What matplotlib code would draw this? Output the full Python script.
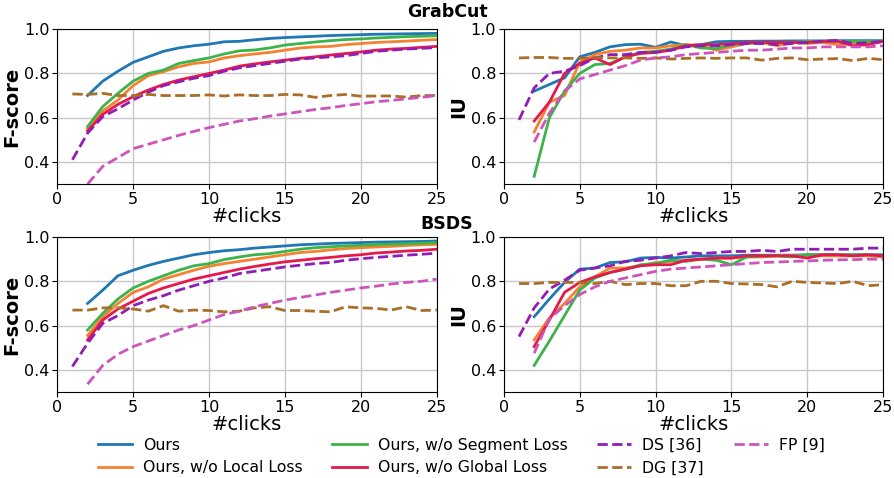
import numpy as np
import matplotlib.pyplot as plt

## Data
clicks = np.arange(1, 26)

labels = ['Ours', 'Ours, w/o Local Loss', 'Ours, w/o Segment Loss', 'Ours, w/o Global Loss',
          'DS [36]', 'DG [37]', 'FP [9]']
colors = ['#1f77b4', '#f58231', '#3cb44b', '#e6194b', '#911eb4', '#aa6e28', '#cc55bb']
styles = ['-', '-', '-', '-', '--', '--', '--']

# GrabCut F-score (methods "Ours*" and FP start at 2 clicks -> None at 1)
gc_f_ours = [None, 0.70, 0.765, 0.81, 0.85, 0.875, 0.90, 0.915, 0.925, 0.932, 0.943, 0.945, 0.952,
             0.958, 0.962, 0.965, 0.968, 0.971, 0.973, 0.975, 0.977, 0.978, 0.979, 0.980, 0.981]
gc_f_local = [None, 0.55, 0.63, 0.68, 0.745, 0.79, 0.808, 0.83, 0.845, 0.852, 0.87, 0.88, 0.888,
              0.895, 0.905, 0.915, 0.92, 0.922, 0.93, 0.935, 0.94, 0.943, 0.946, 0.95, 0.953]
gc_f_seg = [None, 0.56, 0.65, 0.71, 0.765, 0.80, 0.815, 0.845, 0.858, 0.87, 0.888, 0.902, 0.906,
            0.915, 0.928, 0.935, 0.942, 0.948, 0.953, 0.956, 0.96, 0.963, 0.966, 0.968, 0.97]
gc_f_glob = [None, 0.54, 0.615, 0.66, 0.695, 0.725, 0.75, 0.77, 0.785, 0.80, 0.815, 0.833, 0.843,
             0.852, 0.86, 0.868, 0.875, 0.883, 0.89, 0.897, 0.905, 0.91, 0.913, 0.918, 0.922]
gc_f_ds = [0.41, 0.53, 0.605, 0.64, 0.68, 0.715, 0.745, 0.762, 0.778, 0.79, 0.81, 0.825, 0.835,
           0.845, 0.855, 0.865, 0.87, 0.875, 0.88, 0.89, 0.90, 0.905, 0.91, 0.913, 0.917]
gc_f_dg = [0.707, 0.705, 0.71, 0.70, 0.70, 0.705, 0.70, 0.70, 0.70, 0.703, 0.698, 0.703, 0.70,
           0.70, 0.705, 0.703, 0.692, 0.70, 0.705, 0.697, 0.698, 0.698, 0.693, 0.70, 0.70]
gc_f_fp = [None, 0.30, 0.38, 0.42, 0.46, 0.48, 0.50, 0.52, 0.538, 0.555, 0.57, 0.585, 0.595,
           0.607, 0.617, 0.627, 0.637, 0.645, 0.655, 0.663, 0.672, 0.678, 0.685, 0.692, 0.70]

# GrabCut IU
gc_iu_ours = [None, 0.72, 0.75, 0.78, 0.875, 0.895, 0.92, 0.93, 0.932, 0.918, 0.942, 0.925, 0.93,
              0.943, 0.945, 0.945, 0.946, 0.946, 0.947, 0.947, 0.947, 0.948, 0.948, 0.948, 0.948]
gc_iu_local = [None, 0.535, 0.67, 0.70, 0.85, 0.885, 0.90, 0.905, 0.915, 0.915, 0.925, 0.93, 0.925,
               0.905, 0.92, 0.935, 0.94, 0.925, 0.94, 0.935, 0.94, 0.93, 0.935, 0.935, 0.945]
gc_iu_seg = [None, 0.335, 0.60, 0.72, 0.80, 0.84, 0.845, 0.875, 0.895, 0.90, 0.91, 0.93, 0.915,
             0.912, 0.93, 0.935, 0.94, 0.94, 0.94, 0.945, 0.945, 0.945, 0.945, 0.945, 0.945]
gc_iu_glob = [None, 0.585, 0.67, 0.80, 0.845, 0.87, 0.84, 0.875, 0.89, 0.895, 0.905, 0.925, 0.93,
              0.93, 0.935, 0.94, 0.94, 0.94, 0.94, 0.94, 0.945, 0.945, 0.925, 0.93, 0.945]
gc_iu_ds = [0.59, 0.735, 0.80, 0.81, 0.835, 0.87, 0.885, 0.885, 0.895, 0.895, 0.905, 0.92, 0.925,
            0.925, 0.93, 0.935, 0.935, 0.93, 0.935, 0.94, 0.945, 0.95, 0.935, 0.94, 0.945]
gc_iu_dg = [0.87, 0.872, 0.872, 0.868, 0.868, 0.872, 0.87, 0.87, 0.868, 0.87, 0.865, 0.868, 0.87,
            0.868, 0.87, 0.87, 0.86, 0.868, 0.87, 0.862, 0.865, 0.867, 0.858, 0.868, 0.862]
gc_iu_fp = [None, 0.49, 0.62, 0.72, 0.775, 0.795, 0.815, 0.835, 0.86, 0.87, 0.875, 0.885, 0.89,
            0.895, 0.90, 0.905, 0.905, 0.91, 0.915, 0.915, 0.92, 0.92, 0.92, 0.92, 0.925]

# BSDS F-score
bs_f_ours = [None, 0.70, 0.76, 0.825, 0.85, 0.872, 0.89, 0.905, 0.92, 0.93, 0.938, 0.943, 0.95,
             0.955, 0.96, 0.965, 0.968, 0.971, 0.973, 0.975, 0.977, 0.978, 0.979, 0.98, 0.982]
bs_f_local = [None, 0.555, 0.64, 0.70, 0.75, 0.775, 0.81, 0.83, 0.85, 0.868, 0.88, 0.89, 0.90,
              0.91, 0.92, 0.93, 0.935, 0.942, 0.948, 0.952, 0.955, 0.958, 0.962, 0.965, 0.967]
bs_f_seg = [None, 0.58, 0.655, 0.72, 0.77, 0.80, 0.825, 0.85, 0.87, 0.88, 0.898, 0.91, 0.92,
            0.925, 0.935, 0.945, 0.952, 0.956, 0.96, 0.963, 0.966, 0.968, 0.97, 0.972, 0.975]
bs_f_glob = [None, 0.535, 0.625, 0.675, 0.71, 0.745, 0.77, 0.79, 0.81, 0.825, 0.84, 0.855, 0.867,
             0.878, 0.888, 0.895, 0.902, 0.908, 0.915, 0.92, 0.928, 0.932, 0.937, 0.94, 0.945]
bs_f_ds = [0.415, 0.52, 0.61, 0.645, 0.69, 0.715, 0.735, 0.76, 0.78, 0.80, 0.815, 0.835, 0.845,
           0.855, 0.865, 0.873, 0.88, 0.885, 0.895, 0.902, 0.908, 0.913, 0.918, 0.922, 0.927]
bs_f_dg = [0.67, 0.67, 0.68, 0.68, 0.675, 0.665, 0.69, 0.665, 0.67, 0.668, 0.662, 0.665, 0.68,
           0.685, 0.668, 0.668, 0.665, 0.662, 0.685, 0.68, 0.678, 0.67, 0.685, 0.668, 0.67]
bs_f_fp = [None, 0.335, 0.42, 0.47, 0.505, 0.53, 0.555, 0.58, 0.60, 0.625, 0.65, 0.665, 0.685,
           0.70, 0.715, 0.727, 0.738, 0.75, 0.76, 0.77, 0.778, 0.788, 0.795, 0.80, 0.81]

# BSDS IU
bs_iu_ours = [None, 0.64, 0.72, 0.795, 0.855, 0.86, 0.885, 0.888, 0.905, 0.908, 0.905, 0.91, 0.915,
              0.915, 0.915, 0.918, 0.918, 0.918, 0.918, 0.92, 0.92, 0.92, 0.92, 0.92, 0.92]
bs_iu_local = [None, 0.535, 0.635, 0.70, 0.775, 0.82, 0.86, 0.86, 0.87, 0.885, 0.89, 0.895, 0.90,
               0.905, 0.905, 0.91, 0.91, 0.915, 0.915, 0.915, 0.915, 0.915, 0.915, 0.915, 0.91]
bs_iu_seg = [None, 0.42, 0.53, 0.645, 0.76, 0.815, 0.84, 0.855, 0.875, 0.88, 0.895, 0.89, 0.90,
             0.895, 0.875, 0.91, 0.915, 0.915, 0.91, 0.92, 0.92, 0.92, 0.92, 0.92, 0.915]
bs_iu_glob = [None, 0.505, 0.625, 0.75, 0.795, 0.82, 0.84, 0.855, 0.87, 0.875, 0.875, 0.895, 0.90,
              0.905, 0.905, 0.915, 0.915, 0.915, 0.915, 0.905, 0.92, 0.92, 0.915, 0.92, 0.915]
bs_iu_ds = [0.55, 0.68, 0.765, 0.805, 0.85, 0.86, 0.87, 0.89, 0.895, 0.905, 0.915, 0.93, 0.925,
            0.93, 0.935, 0.935, 0.94, 0.935, 0.945, 0.945, 0.945, 0.945, 0.945, 0.95, 0.95]
bs_iu_dg = [0.79, 0.79, 0.795, 0.795, 0.795, 0.79, 0.80, 0.785, 0.79, 0.79, 0.78, 0.78, 0.80,
            0.80, 0.79, 0.788, 0.785, 0.775, 0.80, 0.795, 0.792, 0.79, 0.80, 0.78, 0.785]
bs_iu_fp = [None, 0.475, 0.63, 0.69, 0.74, 0.775, 0.80, 0.815, 0.83, 0.845, 0.855, 0.86, 0.865,
            0.87, 0.875, 0.88, 0.885, 0.887, 0.89, 0.892, 0.895, 0.897, 0.898, 0.90, 0.90]

panels = [
    ([gc_f_ours, gc_f_local, gc_f_seg, gc_f_glob, gc_f_ds, gc_f_dg, gc_f_fp], 'F-score'),
    ([gc_iu_ours, gc_iu_local, gc_iu_seg, gc_iu_glob, gc_iu_ds, gc_iu_dg, gc_iu_fp], 'IU'),
    ([bs_f_ours, bs_f_local, bs_f_seg, bs_f_glob, bs_f_ds, bs_f_dg, bs_f_fp], 'F-score'),
    ([bs_iu_ours, bs_iu_local, bs_iu_seg, bs_iu_glob, bs_iu_ds, bs_iu_dg, bs_iu_fp], 'IU'),
]

##Figure
fig, axes = plt.subplots(2, 2, figsize=(8.94, 4.78), dpi=100)
fig.subplots_adjust(left=0.064, right=0.988, top=0.939, bottom=0.18, wspace=0.177, hspace=0.342)

for ax, (series, ylab) in zip(axes.flat, panels):
    for vals, lab, c, ls in zip(series, labels, colors, styles):
        y = np.array([np.nan if v is None else v for v in vals], dtype=float)
        ax.plot(clicks, y, ls, color=c, lw=2, label=lab)
    ax.set_xlim(0, 25)
    ax.set_ylim(0.3, 1.0)
    ax.set_yticks([0.4, 0.6, 0.8, 1.0])
    ax.grid(True, color='#c8c8c8', lw=1)
    ax.set_axisbelow(True)
    ax.tick_params(labelsize=11.5, pad=2)
    ax.set_xlabel('#clicks', fontsize=14, labelpad=0)
    ax.set_ylabel(ylab, fontsize=14, fontweight='bold', labelpad=2)

fig.text(0.5, 1 - 12 / 478, 'GrabCut', ha='center', va='center', fontsize=12.5, fontweight='bold')
fig.text(0.5, 1 - 224 / 478, 'BSDS', ha='center', va='center', fontsize=12.5, fontweight='bold')

handles, labs = axes[0, 0].get_legend_handles_labels()
fig.legend(handles, labs, ncol=4, loc='upper left', bbox_to_anchor=(0.1026, 0.0973),
           borderaxespad=0, frameon=False, fontsize=11.3,
           handlelength=2.17, handletextpad=0.7, columnspacing=1.9, labelspacing=0.49)

fig.savefig('out.png', dpi=100)
